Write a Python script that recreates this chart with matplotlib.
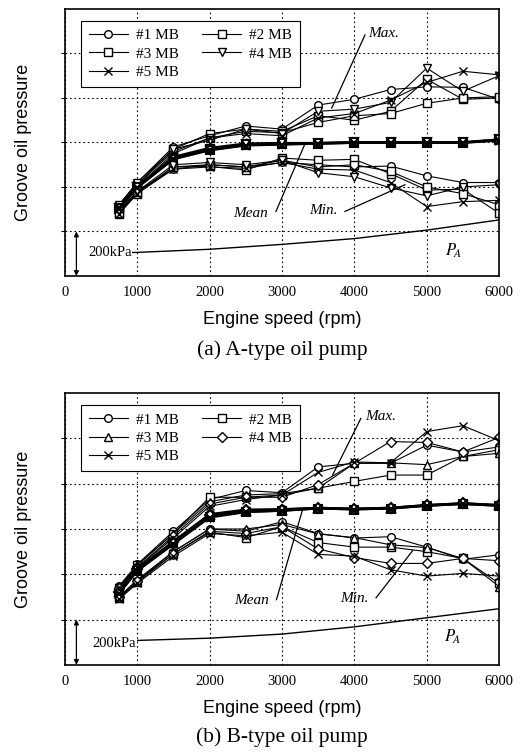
import matplotlib.pyplot as plt

speeds = [750, 1000, 1500, 2000, 2500, 3000, 3500, 4000, 4500, 5000, 5500, 6000]
labels = ['#1 MB', '#2 MB', '#3 MB', '#4 MB', '#5 MB']

# groove oil pressure (kPa) - A-type pump
max_a = [[320, 420, 580, 630, 674, 660, 768, 794, 838, 850, 848, 794],
         [310, 410, 570, 640, 660, 650, 720, 700, 740, 884, 794, 800],
         [316, 410, 560, 620, 650, 644, 690, 720, 730, 776, 800, 806],
         [320, 420, 570, 610, 660, 640, 740, 750, 780, 934, 830, 900],
         [310, 400, 550, 620, 640, 630, 710, 730, 790, 870, 920, 904]]
mean_a = [[308, 404, 536, 576, 596, 598, 598, 602, 602, 602, 602, 614],
          [300, 396, 526, 566, 588, 592, 594, 598, 598, 598, 598, 610],
          [304, 400, 530, 572, 590, 594, 596, 600, 600, 600, 600, 612],
          [306, 402, 532, 568, 592, 596, 598, 602, 600, 602, 600, 614],
          [300, 396, 524, 564, 586, 590, 594, 598, 598, 598, 598, 608]]
min_a = [[290, 380, 480, 500, 490, 510, 500, 490, 494, 450, 420, 420],
         [280, 370, 490, 492, 476, 530, 520, 524, 460, 386, 390, 282],
         [284, 376, 490, 500, 490, 520, 490, 500, 470, 400, 370, 320],
         [290, 380, 500, 510, 500, 520, 464, 446, 396, 360, 400, 410],
         [280, 370, 480, 490, 484, 510, 480, 476, 420, 312, 334, 340]]

# B-type pump
max_b = [[348, 444, 590, 730, 770, 760, 874, 890, 890, 970, 940, 962],
         [340, 440, 580, 740, 740, 750, 780, 810, 838, 838, 920, 950],
         [344, 440, 580, 720, 750, 756, 780, 890, 892, 884, 920, 934],
         [340, 430, 570, 710, 740, 740, 796, 890, 986, 982, 940, 1004],
         [336, 430, 560, 700, 730, 750, 850, 896, 892, 1030, 1056, 990]]
mean_b = [[324, 424, 546, 666, 686, 688, 694, 690, 694, 706, 714, 706],
          [316, 416, 536, 654, 676, 680, 690, 686, 690, 702, 710, 702],
          [320, 420, 540, 660, 680, 684, 692, 688, 692, 704, 712, 704],
          [322, 422, 544, 662, 682, 686, 694, 690, 694, 706, 714, 706],
          [314, 414, 532, 650, 674, 680, 690, 686, 690, 702, 710, 702]]
min_b = [[300, 370, 500, 600, 590, 632, 580, 560, 566, 520, 466, 486],
         [296, 364, 490, 586, 562, 610, 540, 520, 520, 500, 470, 360],
         [300, 376, 500, 600, 600, 620, 578, 562, 530, 518, 470, 346],
         [300, 370, 490, 590, 580, 610, 512, 474, 448, 448, 470, 460],
         [290, 360, 480, 580, 570, 586, 488, 480, 420, 392, 404, 392]]

# supply pressure P_A
speeds_pa = [750, 1000, 2000, 3000, 4000, 5000, 6000]
pa_a = [104, 106, 120, 142, 168, 206, 252]
pa_b = [106, 108, 118, 136, 168, 208, 248]

serif = 'Liberation Serif'
sans = 'Liberation Sans'
plt.rcParams['mathtext.fontset'] = 'stix'

fig = plt.figure(figsize=(5.27, 7.53), dpi=100)
ax1 = fig.add_axes([0.123, 0.6335, 0.824, 0.3546])
ax2 = fig.add_axes([0.123, 0.117, 0.824, 0.361])


def draw(ax, mx, mn, lo, pa, markers, caption, notes):
    handles = []
    for i in range(5):
        m = markers[i]
        h, = ax.plot(speeds, mx[i], '-', color='k', lw=0.8, marker=m, ms=5.5,
                     mfc='white', mec='k', mew=1.0, label=labels[i])
        handles.append(h)
        ax.plot(speeds, mn[i], '-', color='k', lw=1.4, marker=m, ms=5.5,
                mfc='white', mec='k', mew=1.5)
        ax.plot(speeds, lo[i], '-', color='k', lw=0.8, marker=m, ms=5.5,
                mfc='white', mec='k', mew=1.0)
    ax.plot(speeds_pa, pa, '-', color='k', lw=1.0)

    ax.set_xlim(0, 6000)
    ax.set_ylim(0, 1200)
    ax.set_xticks(range(0, 7000, 1000))
    ax.set_yticks(range(200, 1200, 200))
    ax.set_yticklabels([])
    ax.tick_params(axis='y', direction='out', length=3)
    ax.tick_params(axis='x', direction='in', length=0, pad=7)
    for t in ax.get_xticklabels():
        t.set_family(serif)
        t.set_fontsize(10.5)
    ax.grid(True, ls=(0, (1.5, 2.5)), color='k', lw=0.8)
    for s in ax.spines.values():
        s.set_linewidth(1.2)
    ax.set_xlabel('Engine speed (rpm)', family=sans, fontsize=13, labelpad=9)
    ax.set_ylabel('Groove oil pressure', family=sans, fontsize=13, labelpad=17)

    # row-wise order: #1 #2 / #3 #4 / #5
    order = [0, 2, 4, 1, 3]
    leg = ax.legend([handles[k] for k in order], [labels[k] for k in order],
                    ncol=2, loc='upper left', bbox_to_anchor=(0.037, 0.955),
                    borderaxespad=0,
                    prop={'family': serif, 'size': 11}, frameon=True,
                    fancybox=False, edgecolor='k', framealpha=1,
                    handlelength=2.6, handletextpad=0.5, columnspacing=1.5,
                    labelspacing=0.3, borderpad=0.5)
    leg.get_frame().set_linewidth(0.8)

    # 200 kPa scale arrow
    ax.annotate('', xy=(160, 0), xytext=(160, 200),
                arrowprops=dict(arrowstyle='<|-|>', color='k', lw=0.9,
                                mutation_scale=7, shrinkA=0, shrinkB=0))
    ax.text(notes['kpa'][0], notes['kpa'][1], '200kPa', family=serif,
            fontsize=10.5, ha='center', va='center',
            bbox=dict(facecolor='white', edgecolor='none', pad=0.5))

    for key in ['Max.', 'Mean', 'Min.']:
        tx, ty, x0, y0, x1, y1 = notes[key]
        ax.text(tx, ty, key, family=serif, style='italic', fontsize=11,
                ha='center', va='center')
        ax.plot([x0, x1], [y0, y1], '-', color='k', lw=0.9)
    ax.text(notes['pa'][0], notes['pa'][1], r'$P_{\!A}$', fontsize=12,
            ha='center', va='center')

    ax.text(0.5, notes['cap'], caption, transform=ax.transAxes, family=serif,
            fontsize=15.5, ha='center', va='center')


notes_a = {'Max.': (4400, 1090, 4147, 1083, 3687, 754),
           'Mean': (2560, 282, 2917, 290, 3318, 594),
           'Min.': (3570, 294, 3870, 290, 4700, 410),
           'pa': (5370, 112), 'kpa': (620, 106), 'cap': -0.277}
notes_b = {'Max.': (4370, 1096, 4090, 1088, 3700, 838),
           'Mean': (2575, 286, 2924, 288, 3287, 688),
           'Min.': (4000, 292, 4300, 296, 4805, 504),
           'pa': (5356, 126), 'kpa': (680, 94), 'cap': -0.265}

draw(ax1, max_a, mean_a, min_a, pa_a, ['o', 's', 's', 'v', 'x'],
     '(a) A-type oil pump', notes_a)
draw(ax2, max_b, mean_b, min_b, pa_b, ['o', 's', '^', 'D', 'x'],
     '(b) B-type oil pump', notes_b)

fig.savefig('out.png', dpi=100)
